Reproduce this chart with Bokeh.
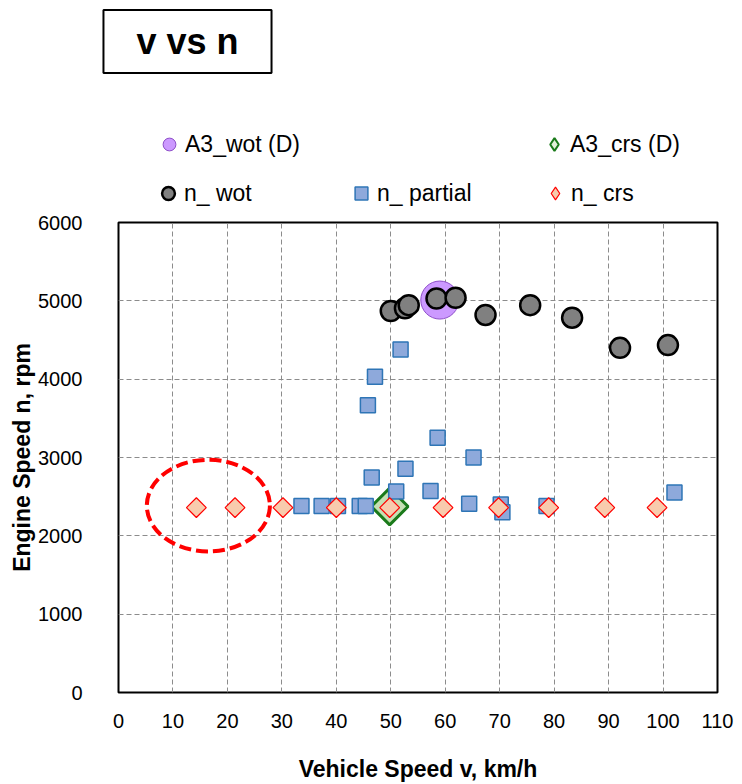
import numpy as np
from bokeh.plotting import figure
from bokeh.layouts import column
from bokeh.models import Legend, LegendItem, Label, FixedTicker, Range1d
from bokeh.embed import file_html
from bokeh.resources import INLINE

# ---------------- data ----------------
x_ticks = [0, 10, 20, 30, 40, 50, 60, 70, 80, 90, 100, 110]
y_ticks = [0, 1000, 2000, 3000, 4000, 5000, 6000]

wot_v = [50.0, 52.6, 53.3, 58.4, 61.9, 67.4, 75.6, 83.3, 92.1, 100.9]
wot_n = [4870, 4905, 4945, 5030, 5040, 4820, 4945, 4785, 4400, 4435]

partial_v = [33.6, 37.3, 40.3, 44.3, 45.4, 45.8, 46.5, 47.1, 51.0, 51.8,
             52.7, 57.3, 58.6, 64.4, 65.2, 70.2, 70.5, 78.6, 102.1]
partial_n = [2380, 2380, 2380, 2380, 2380, 3666, 2745, 4032, 2567, 4380,
             2856, 2571, 3251, 2410, 3000, 2400, 2300, 2380, 2554]

crs_v = [14.3, 21.4, 30.2, 40.0, 49.8, 59.6, 69.8, 79.0, 89.3, 98.9]
crs_n = [2360, 2360, 2360, 2360, 2360, 2360, 2360, 2360, 2360, 2360]

a3_wot_v = [59.0]
a3_wot_n = [5010]

a3_crs_v = [49.8]
a3_crs_n = [2375]

ellipse_v = [16.5]
ellipse_n = [2386]
ellipse_w = 22.6
ellipse_h = 1170

legend_labels = ["A3_wot (D)", "A3_crs (D)", "n_ wot", "n_ partial", "n_ crs"]
title_text = "v vs n"

# ---------------- styles ----------------
STY_A3W = dict(fill_color="#CC99FF", line_color="#8E4FC9", line_width=1)
STY_A3C = dict(fill_color="#C5E0B4", line_color="#1A7A1A", line_width=3)
STY_WOT = dict(fill_color="#808080", line_color="black", line_width=2.5)
STY_PAR = dict(fill_color="#8EA9DB", line_color="#2E75B6", line_width=1.5)
STY_CRS = dict(fill_color="#F8CBAD", line_color="#FF0000", line_width=1.2)

# ---------------- top strip: title + legend ----------------
TOP_H = 210
GLYPH = 32
top = figure(width=742, height=TOP_H, x_range=Range1d(0, 742), y_range=Range1d(TOP_H, 0),
             output_backend="svg", toolbar_location=None,
             x_axis_location=None, y_axis_location=None,
             min_border_left=0, min_border_right=0, min_border_top=0, min_border_bottom=0)
top.frame_align = False
top.outline_line_color = None
top.grid.visible = False

# legend-only proxy renderers (placed off the visible strip)
off = dict(x=[-1000], y=[-1000])
lg_a3w = top.scatter(marker="circle", **off, **STY_A3W)
lg_a3c = top.scatter(marker="diamond", fill_color="#E2F0D9",
                     line_color="#1A7A1A", line_width=2, **off)
lg_wot = top.scatter(marker="circle", **off, **STY_WOT)
lg_par = top.scatter(marker="square", **off, **STY_PAR)
lg_crs = top.scatter(marker="diamond", **off, **STY_CRS)


def add_leg(label, renderer, marker_x, row_y):
    leg = Legend(items=[LegendItem(label=label, renderers=[renderer])],
                 location=(marker_x - GLYPH / 2, TOP_H - (row_y + GLYPH / 2)),
                 orientation="horizontal",
                 padding=0, margin=0, spacing=0,
                 glyph_width=GLYPH, glyph_height=GLYPH, label_height=GLYPH,
                 label_standoff=0,
                 label_text_font="Liberation Sans", label_text_font_size="23px",
                 label_text_color="black",
                 border_line_color=None, background_fill_color=None)
    top.add_layout(leg, "center")


add_leg(legend_labels[0], lg_a3w, 169, 144)
add_leg(legend_labels[1], lg_a3c, 554, 144)
add_leg(legend_labels[2], lg_wot, 168, 193)
add_leg(legend_labels[3], lg_par, 361, 193)
add_leg(legend_labels[4], lg_crs, 555, 193)

title = Label(x=187, y=41, text=title_text,
              text_font="Liberation Sans", text_font_style="bold",
              text_font_size="36px", text_color="black",
              text_align="center", text_baseline="middle",
              border_line_color="black", border_line_width=2,
              background_fill_color="white",
              padding=dict(left=33, right=33, top=11, bottom=11))
top.add_layout(title)

# ---------------- main chart ----------------
p = figure(width=742, height=784 - TOP_H,
           x_range=Range1d(0, 110), y_range=Range1d(0, 6000),
           output_backend="svg", toolbar_location=None,
           min_border_left=118, min_border_right=25,
           min_border_top=222 - TOP_H, min_border_bottom=92,
           x_axis_label="Vehicle Speed v, km/h",
           y_axis_label="Engine Speed n, rpm")
p.frame_align = False

p.outline_line_color = "black"
p.outline_line_width = 2
p.background_fill_color = "white"

p.xaxis.ticker = FixedTicker(ticks=x_ticks)
p.yaxis.ticker = FixedTicker(ticks=y_ticks)

for g in (p.xgrid[0], p.ygrid[0]):
    g.grid_line_color = "#8c8c8c"
    g.grid_line_dash = "5 3"
    g.grid_line_width = 1

for ax in (p.xaxis[0], p.yaxis[0]):
    ax.axis_line_color = None
    ax.major_tick_line_color = None
    ax.minor_tick_line_color = None
    ax.major_tick_out = 0
    ax.major_tick_in = 0
    ax.major_label_text_font = "Liberation Sans"
    ax.major_label_text_font_size = "20px"
    ax.major_label_text_color = "black"
    ax.axis_label_text_font = "Liberation Sans"
    ax.axis_label_text_font_style = "bold"
    ax.axis_label_text_font_size = "23px"
    ax.axis_label_text_color = "black"

p.xaxis.major_label_standoff = 21
p.xaxis.axis_label_standoff = 25
p.yaxis.major_label_standoff = 36
p.yaxis.axis_label_standoff = 0

p.ellipse(x=ellipse_v, y=ellipse_n, width=ellipse_w, height=ellipse_h,
          fill_color=None, line_color="#FF0000", line_width=4, line_dash="12 5")

p.scatter(a3_wot_v, a3_wot_n, marker="circle", size=38, **STY_A3W)
p.scatter(a3_crs_v, a3_crs_n, marker="square", angle=np.pi / 4, size=26, **STY_A3C)
p.scatter(wot_v, wot_n, marker="circle", size=20, **STY_WOT)
p.scatter(partial_v, partial_n, marker="square", size=15, **STY_PAR)
p.scatter(crs_v, crs_n, marker="square", angle=np.pi / 4, size=14, **STY_CRS)

layout = column(top, p, spacing=0)

open("out.html", "w").write(file_html(layout, INLINE))
